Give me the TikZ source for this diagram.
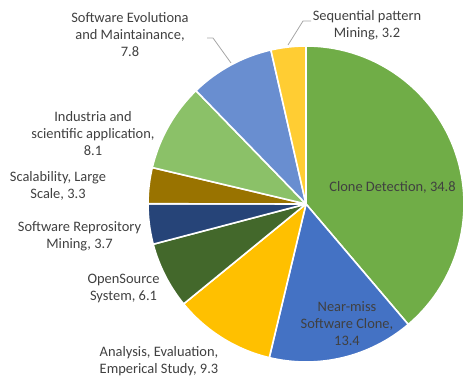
\documentclass[tikz,border=0pt]{standalone}
\usepackage{fontspec}
\setmainfont{Carlito}
\definecolor{cClone}{HTML}{70AD47}
\definecolor{cNear}{HTML}{4472C4}
\definecolor{cAnal}{HTML}{FFC000}
\definecolor{cOpen}{HTML}{43682B}
\definecolor{cRepo}{HTML}{264478}
\definecolor{cScal}{HTML}{997300}
\definecolor{cInd}{HTML}{8BC168}
\definecolor{cEvo}{HTML}{698ED0}
\definecolor{cSeq}{HTML}{FFCD33}
\definecolor{txt}{HTML}{404040}
\definecolor{lead}{HTML}{A6A6A6}
\begin{document}
\begin{tikzpicture}[x=1bp,y=1bp,
  lbl/.style={align=center,inner sep=0pt,text=txt,font=\fontsize{14.5}{17}\selectfont},
  slice/.style={draw=white,line width=1.6bp,line join=round},
  leader/.style={draw=lead,line width=0.8bp}]
\useasboundingbox (0,0) rectangle (463,379);
\coordinate (c) at (306,175);
\def\R{158}
\newcommand{\pieslice}[3]{%
  \filldraw[slice,fill=#3] (c) -- ++(#1:\R) arc[start angle=#1,end angle=#2,radius=\R] -- cycle;}
\pieslice{90}{-49.666}{cClone}
\pieslice{-49.666}{-103.445}{cNear}
\pieslice{-103.445}{-140.769}{cAnal}
\pieslice{-140.769}{-165.251}{cOpen}
\pieslice{-165.251}{-180.100}{cRepo}
\pieslice{-180.100}{-193.344}{cScal}
\pieslice{-193.344}{-225.852}{cInd}
\pieslice{-225.852}{-257.156}{cEvo}
\pieslice{-257.156}{-270}{cSeq}
% labels
\node[lbl] (lClone) at (392.5,192) {Clone Detection, 34.8};
\node[lbl] (lNear) at (347,55) {Near-miss\\Software Clone,\\13.4};
\node[lbl] (lAnal) at (159,18) {Analysis, Evaluation,\\Emperical Study, 9.3};
\node[lbl] (lOpen) at (123.5,90.5) {OpenSource\\System, 6.1};
\node[lbl] (lRepo) at (79.5,143) {Software Reprository\\Mining, 3.7};
\node[lbl] (lScal) at (58,193.5) {Scalability, Large\\Scale, 3.3};
\node[lbl] (lInd) at (93,245.5) {Industria and\\scientific application,\\8.1};
\node[lbl] (lEvo) at (130,344.5) {Software Evolutiona\\and Maintainance,\\7.8};
\node[lbl] (lSeq) at (367,353.5) {Sequential pattern\\Mining, 3.2};
% leader lines
\coordinate (sSeq) at (288,334);
\coordinate (kSeq) at (303,358);
\coordinate (eSeq) at (311,358);
\coordinate (sEvo) at (231,316);
\coordinate (kEvo) at (213,341);
\coordinate (eEvo) at (207,341);
\draw[leader] (eSeq) -- (kSeq) -- (sSeq);
\draw[leader] (eEvo) -- (kEvo) -- (sEvo);
\end{tikzpicture}
\end{document}
